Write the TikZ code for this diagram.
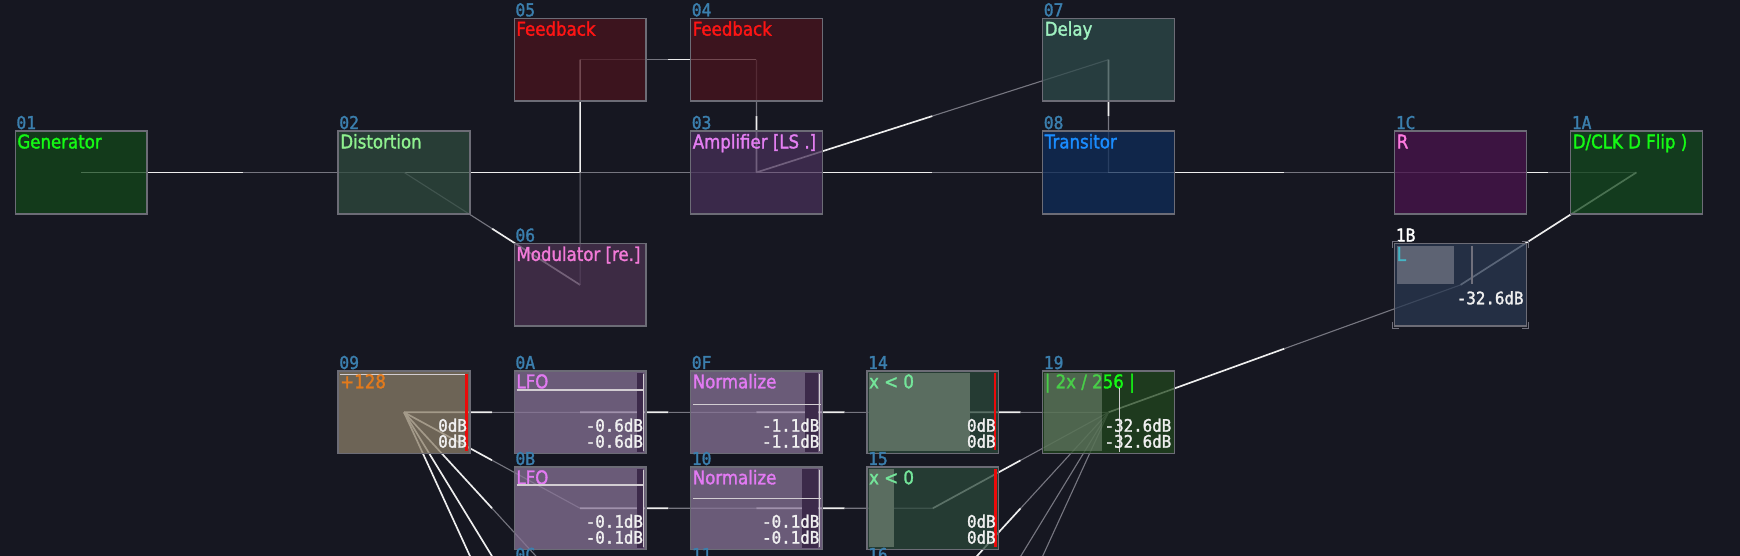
\documentclass[tikz,border=0pt]{standalone}
\usepackage{fontspec}
\newfontfamily\tfont{DejaVu Sans}[FakeStretch=0.88,FakeBold=1.6]
\newfontfamily\nfont{DejaVu Sans Mono}[FakeStretch=0.92,FakeBold=1.6]
\usetikzlibrary{calc}
\pgfdeclarelayer{bgl}
\pgfdeclarelayer{linkl}
\pgfsetlayers{bgl,linkl,main}
\definecolor{bgc}{RGB}{22,23,33}
\definecolor{boxc}{RGB}{108,108,118}
\definecolor{labc}{RGB}{59,127,174}
\definecolor{linkw}{RGB}{238,238,238}
\definecolor{linkg}{RGB}{118,118,128}
\definecolor{dbc}{RGB}{240,240,240}
\definecolor{redc}{RGB}{235,10,10}
\definecolor{topw}{RGB}{210,205,210}
% fills
\definecolor{fgen}{RGB}{18,70,26}
\definecolor{fdist}{RGB}{47,74,62}
\definecolor{ffb}{RGB}{73,19,29}
\definecolor{famp}{RGB}{71,48,88}
\definecolor{fmod}{RGB}{75,50,81}
\definecolor{fdel}{RGB}{46,74,74}
\definecolor{ftra}{RGB}{14,44,88}
\definecolor{fr}{RGB}{73,19,77}
\definecolor{fdclk}{RGB}{19,72,29}
\definecolor{fone}{RGB}{41,56,81}
\definecolor{fctl}{RGB}{139,126,104}
\definecolor{flfo}{RGB}{135,115,150}
\definecolor{fxl}{RGB}{43,72,58}
\definecolor{fnin}{RGB}{33,70,29}
\definecolor{strip}{RGB}{60,42,74}
\definecolor{ovx}{RGB}{90,109,96}
\definecolor{ovn}{RGB}{137,154,137}
\definecolor{ovb}{RGB}{93,99,115}
\definecolor{brk}{RGB}{112,112,124}
% title colours
\definecolor{tgreen}{RGB}{20,250,20}
\definecolor{tdist}{RGB}{142,240,142}
\definecolor{tred}{RGB}{255,20,20}
\definecolor{tamp}{RGB}{228,127,242}
\definecolor{tmod}{RGB}{242,122,216}
\definecolor{tdel}{RGB}{159,240,192}
\definecolor{ttra}{RGB}{26,140,255}
\definecolor{tr}{RGB}{255,122,224}
\definecolor{tl}{RGB}{69,181,197}
\definecolor{tctl}{RGB}{226,122,28}
\definecolor{tlfo}{RGB}{226,122,242}
\definecolor{txl}{RGB}{116,229,154}
\tikzset{
  modbox/.style={draw=boxc, line width=1.4pt, rectangle, minimum width=118.6pt,
    minimum height=74.5pt, inner sep=0pt, outer sep=0pt, fill opacity=0.75},
  ttl/.style={font=\tfont\fontsize{17}{17}\selectfont, inner sep=0pt, anchor=base west},
  lab/.style={font=\nfont\fontsize{16}{16}\selectfont, text=labc, inner sep=0pt, anchor=base west},
  dbv/.style={font=\nfont\fontsize{15.5}{15.5}\selectfont, text=dbc, inner sep=0pt, anchor=base east},
  hl/.style={draw=linkw, line width=1.5pt},
  lo/.style={draw=linkg, line width=1pt},
  vline/.style={draw=#1, line width=1pt},
  brkline/.style={draw=brk, line width=1.3pt},
}
\newcommand\modb[5]{%
  \node[modbox, fill=#4] (#1) at ({#2+59.3},{#3+37.25}) {};
  \node[lab] (#1l) at ($(#1.north west)+(0.8,-1.8)$) {#5};}
\newcommand\ttlat[3]{\node[ttl, text=#2] (#1t) at ($(#1.north west)+(1.7,15.6)$) {#3};}
\newcommand\dbtwo[3]{%
  \node[dbv] (#1a) at ($(#1.south east)+(-2.5,-19.8)$) {#2};
  \node[dbv] (#1b) at ($(#1.south east)+(-2.5,-5.4)$) {#3};}
\newcommand\lnk[2]{%
  \draw[hl] (#1.center) -- ($(#1.center)!0.5!(#2.center)$);
  \draw[lo] ($(#1.center)!0.5!(#2.center)$) -- (#2.center);}
\begin{document}
\begin{tikzpicture}[x=1pt,y=-1pt]
\useasboundingbox (0,0) rectangle (1568,501);
\begin{pgfonlayer}{bgl}
  \fill[bgc] (0,0) rectangle (1568,501);
\end{pgfonlayer}

% ---------- upper graph ----------
\modb{m01}{13.8}{118.1}{fgen}{01}    \ttlat{m01}{tgreen}{Generator}
\modb{m02}{304.8}{118.1}{fdist}{02}  \ttlat{m02}{tdist}{Distortion}
\modb{m05}{463.5}{16.5}{ffb}{05}     \ttlat{m05}{tred}{Feedback}
\modb{m04}{622.4}{16.5}{ffb}{04}     \ttlat{m04}{tred}{Feedback}
\modb{m03}{622.4}{118.1}{famp}{03}   \ttlat{m03}{tamp}{Amplifier [LS .]}
\modb{m06}{463.5}{219.5}{fmod}{06}   \ttlat{m06}{tmod}{Modulator [re.]}
\modb{m07}{939.6}{16.5}{fdel}{07}    \ttlat{m07}{tdel}{Delay}
\modb{m08}{939.6}{118.1}{ftra}{08}   \ttlat{m08}{ttra}{Transitor}
\modb{m1C}{1256.8}{118.1}{fr}{1C}    \ttlat{m1C}{tr}{R}
\modb{m1A}{1415.4}{118.1}{fdclk}{1A} \ttlat{m1A}{tgreen}{D/CLK D Flip )}

% 1B (selected)
\node[modbox, fill=fone] (m1B) at ({1256.8+59.3},{219.5+37.25}) {};
\node[lab, text=white] (m1Bl) at ($(m1B.north west)+(0.8,-1.8)$) {1B};
\fill[ovb] ($(m1B.north west)+(1.8,1.9)$) rectangle ($(m1B.north west)+(53.5,36.5)$);
\draw[vline=brk] ($(m1B.north west)+(69.7,1.9)$) -- ($(m1B.north west)+(69.7,36.5)$);
\ttlat{m1B}{tl}{L}
\node[dbv] (m1Ba) at ($(m1B.south east)+(-2.3,-19.8)$) {-32.6dB};
\draw[brkline] ($(m1B.north west)+(-2,4)$) -- ($(m1B.north west)+(-2,-2)$) -- ($(m1B.north west)+(4,-2)$);
\draw[brkline] ($(m1B.north east)+(2,4)$) -- ($(m1B.north east)+(2,-2)$) -- ($(m1B.north east)+(-4,-2)$);
\draw[brkline] ($(m1B.south west)+(-2,-4)$) -- ($(m1B.south west)+(-2,2)$) -- ($(m1B.south west)+(4,2)$);
\draw[brkline] ($(m1B.south east)+(2,-4)$) -- ($(m1B.south east)+(2,2)$) -- ($(m1B.south east)+(-4,2)$);

% ---------- lower graph ----------
% 09 +128
\modb{m09}{304.8}{334.3}{fctl}{09}
\draw[line width=1.3pt, draw=topw] ($(m09.north west)+(1.7,3)$) -- ($(m09.north east)+(-1.5,3)$);
\fill[redc] ($(m09.north east)+(-4.1,2.7)$) rectangle ($(m09.south east)+(-1.8,-2.5)$);
\ttlat{m09}{tctl}{+128}
\dbtwo{m09}{0dB}{0dB}

% LFOs
\modb{m0A}{463.5}{334.3}{flfo}{0A}
\fill[strip] ($(m0A.north east)+(-8.2,1.5)$) rectangle ($(m0A.south east)+(-2.6,-1.5)$);
\draw[vline=topw] ($(m0A.north east)+(-2.1,2.5)$) -- ($(m0A.south east)+(-2.1,-2)$);
\ttlat{m0A}{tlfo}{LFO}
\draw[line width=1.3pt, draw=topw] ($(m0A.north west)+(2,17.2)$) -- ($(m0A.north east)+(-1.5,17.2)$);
\dbtwo{m0A}{-0.6dB}{-0.6dB}

\modb{m0B}{463.5}{420.8}{flfo}{0B}
\fill[strip] ($(m0B.north east)+(-8.2,1.5)$) rectangle ($(m0B.south east)+(-2.6,-1.5)$);
\draw[vline=topw] ($(m0B.north east)+(-2.1,2.5)$) -- ($(m0B.south east)+(-2.1,-2)$);
\ttlat{m0B}{tlfo}{LFO}
\draw[line width=1.3pt, draw=topw] ($(m0B.north west)+(2,16.2)$) -- ($(m0B.north east)+(-1.5,16.2)$);
\dbtwo{m0B}{-0.1dB}{-0.1dB}

% Normalize
\modb{m0F}{622.4}{334.3}{flfo}{0F}
\fill[strip] ($(m0F.north east)+(-15.2,1.5)$) rectangle ($(m0F.south east)+(-3.9,-1.5)$);
\draw[vline=topw] ($(m0F.north east)+(-2.3,2.5)$) -- ($(m0F.south east)+(-2.3,-2)$);
\ttlat{m0F}{tlfo}{Normalize}
\draw[line width=1.3pt, draw=topw] ($(m0F.north west)+(2,30.1)$) -- ($(m0F.north east)+(-1.5,30.1)$);
\dbtwo{m0F}{-1.1dB}{-1.1dB}

\modb{m10}{622.4}{420.8}{flfo}{10}
\fill[strip] ($(m10.north east)+(-18.4,1.5)$) rectangle ($(m10.south east)+(-3.9,-1.5)$);
\draw[vline=topw] ($(m10.north east)+(-2.3,2.5)$) -- ($(m10.south east)+(-2.3,-2)$);
\ttlat{m10}{tlfo}{Normalize}
\draw[line width=1.3pt, draw=topw] ($(m10.north west)+(2,28.2)$) -- ($(m10.north east)+(-1.5,28.2)$);
\dbtwo{m10}{-0.1dB}{-0.1dB}

% x < 0
\modb{m14}{781.3}{334.3}{fxl}{14}
\fill[ovx] ($(m14.north west)+(1.4,2)$) rectangle ($(m14.south west)+(92.5,-2)$);
\fill[redc] ($(m14.north east)+(-4.3,2)$) rectangle ($(m14.south east)+(-2,-3.5)$);
\ttlat{m14}{txl}{x < 0}
\dbtwo{m14}{0dB}{0dB}

\modb{m15}{781.3}{420.8}{fxl}{15}
\fill[ovx] ($(m15.north west)+(1.4,2)$) rectangle ($(m15.south west)+(24.3,-2)$);
\fill[redc] ($(m15.north east)+(-4.5,2)$) rectangle ($(m15.south east)+(-1.8,-2)$);
\ttlat{m15}{txl}{x < 0}
\dbtwo{m15}{0dB}{0dB}

% 19
\modb{m19}{939.6}{334.3}{fnin}{19}
\ttlat{m19}{tgreen}{| 2x / 256 |}
\fill[ovn, fill opacity=0.45] ($(m19.north west)+(1.4,2)$) rectangle ($(m19.south west)+(53.2,-2)$);
\draw[vline=topw] ($(m19.north west)+(69.2,15.7)$) -- ($(m19.south west)+(69.2,-1.8)$);
\dbtwo{m19}{-32.6dB}{-32.6dB}

% third row (only the tops of its labels reach into the picture)
\modb{m0C}{463.5}{507.3}{flfo}{0C}
\modb{m11}{622.4}{507.3}{flfo}{11}
\modb{m16}{781.3}{507.3}{fxl}{16}
\coordinate (c0D) at (522.8,631.05);
\coordinate (c0E) at (522.8,717.55);
\coordinate (c17) at (840.6,631.05);
\coordinate (c18) at (840.6,717.55);

% ---------- links ----------
\begin{pgfonlayer}{linkl}
\lnk{m01}{m02}
\lnk{m02}{m03}
\lnk{m06}{m02}
\lnk{m04}{m05}
\lnk{m05}{m06}
\lnk{m03}{m04}
\lnk{m03}{m07}
\lnk{m03}{m08}
\lnk{m07}{m08}
\lnk{m08}{m1C}
\lnk{m1C}{m1A}
\draw[hl] (m1B.center) -- (m1A.center);
\lnk{m19}{m1B}
\lnk{m09}{m0A}
\lnk{m09}{m0B}
\lnk{m09}{m0C}
\lnk{m09}{c0D}
\lnk{m09}{c0E}
\lnk{m0A}{m0F}
\lnk{m0B}{m10}
\lnk{m0F}{m14}
\lnk{m10}{m15}
\lnk{m14}{m19}
\lnk{m15}{m19}
\lnk{m16}{m19}
\lnk{c17}{m19}
\lnk{c18}{m19}
\end{pgfonlayer}
\end{tikzpicture}
\end{document}
